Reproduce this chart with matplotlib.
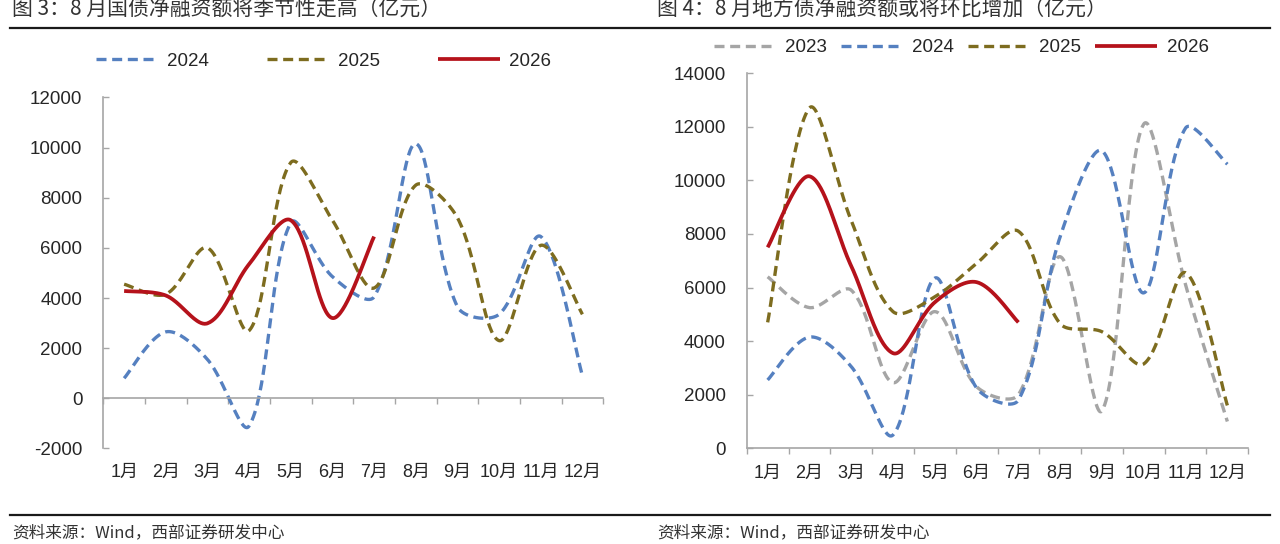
import numpy as np
import matplotlib
matplotlib.use("Agg")
import matplotlib.pyplot as plt
from matplotlib.lines import Line2D

plt.rcParams['font.family'] = ['Liberation Sans', 'Noto Sans CJK SC', 'DejaVu Sans']
plt.rcParams['axes.unicode_minus'] = False

# 数据（亿元）
months = ['1月', '2月', '3月', '4月', '5月', '6月', '7月', '8月', '9月', '10月', '11月', '12月']

gz_2024 = [800, 2650, 1550, -1100, 7000, 4850, 4050, 10150, 3650, 3350, 6450, 900]
gz_2025 = [4550, 4150, 6000, 2700, 9400, 7100, 4400, 8500, 7200, 2300, 6100, 3350]
gz_2026 = [4280, 4100, 2990, 5350, 7100, 3200, 6450]

df_2023 = [6400, 5250, 5900, 2450, 5100, 2300, 2000, 7150, 1400, 12100, 6100, 1000]
df_2024 = [2550, 4150, 3050, 500, 6350, 2250, 1800, 7900, 11100, 5800, 11950, 10600]
df_2025 = [4700, 12700, 8500, 5100, 5650, 6900, 8100, 4650, 4350, 3150, 6550, 1600]
df_2026 = [7500, 10150, 6800, 3550, 5450, 6200, 4700]

titles = ['图 3：8 月国债净融资额将季节性走高（亿元）', '图 4：8 月地方债净融资额或将环比增加（亿元）']
source = '资料来源：Wind，西部证券研发中心'

c_gray = '#A5A5A5'
c_blue = '#5580C0'
c_olive = '#7D6C1F'
c_red = '#B5121B'


def smooth(ys, ypx, n=40):
    # 类似 Excel 的平滑线：在像素空间按弦长缩放切线的 Bezier
    xp = np.arange(len(ys)) * 41.7
    yp = np.asarray(ys, float) * ypx
    pts = np.column_stack([xp, yp])
    out = []
    t = np.linspace(0, 1, n)[:, None]
    for i in range(len(pts) - 1):
        p0 = pts[i - 1] if i > 0 else pts[i]
        p1, p2 = pts[i], pts[i + 1]
        p3 = pts[i + 2] if i + 2 < len(pts) else pts[i + 1]
        d01 = np.hypot(*(p1 - p0))
        d12 = np.hypot(*(p2 - p1))
        d23 = np.hypot(*(p3 - p2))
        f1 = d12 / (d01 + d12) / 3 if d01 > 0 else 1 / 6
        f2 = d12 / (d12 + d23) / 3 if d23 > 0 else 1 / 6
        c1 = p1 + (p2 - p0) * f1
        c2 = p2 - (p3 - p1) * f2
        seg = (1 - t) ** 3 * p1 + 3 * (1 - t) ** 2 * t * c1 + 3 * (1 - t) * t ** 2 * c2 + t ** 3 * p2
        out.append(seg if i == 0 else seg[1:])
    s = np.vstack(out)
    return s[:, 0] / 41.7, s[:, 1] / ypx


def draw(ax, ys, ypx, color, label, dashed=True):
    x, y = smooth(ys, ypx)
    if dashed:
        ax.plot(x, y, color=color, lw=2.4, dashes=(3.0, 1.7), dash_capstyle='butt', label=label)
    else:
        ax.plot(x, y, color=color, lw=2.7, solid_capstyle='butt', label=label)


def style(ax, ymin, ymax, step, xpad):
    ax.set_xlim(-0.5, 11.5)
    ax.set_ylim(ymin, ymax)
    ax.set_yticks(np.arange(ymin, ymax + 1, step))
    for s in ['top', 'right']:
        ax.spines[s].set_visible(False)
    for s in ['left', 'bottom']:
        ax.spines[s].set_color('#A6A6A6')
        ax.spines[s].set_linewidth(1.2)
    ax.spines['bottom'].set_position(('data', 0))
    ax.set_xticks(range(12))
    ax.set_xticklabels(months)
    ax.set_xticks(np.arange(-0.5, 12, 1), minor=True)
    ax.tick_params(axis='x', which='major', length=0, pad=xpad, labelsize=13, colors='#262626')
    ax.tick_params(axis='x', which='minor', length=4, width=1, direction='out', color='#A6A6A6')
    ax.tick_params(axis='y', which='major', length=4, width=1, direction='in', color='#A6A6A6',
                   pad=15, labelsize=13.5, labelcolor='#262626')


fig = plt.figure(figsize=(12.8, 5.44), dpi=100)

# 左图：国债
ax1 = fig.add_axes([0.0807, 0.1756, 0.3906, 0.6454])
ypx1 = 50.15 / 2000
draw(ax1, gz_2024, ypx1, c_blue, '2024')
draw(ax1, gz_2025, ypx1, c_olive, '2025')
draw(ax1, gz_2026, ypx1, c_red, '2026', dashed=False)
style(ax1, -2000, 12000, 2000, 47)
ax1.legend(loc='center', bbox_to_anchor=(0.2527, 0.887), bbox_transform=fig.transFigure,
           ncol=3, frameon=False, fontsize=13.5, handlelength=3.3, handletextpad=0.5,
           columnspacing=3.1, labelcolor='#262626')

# 右图：地方债
ax2 = fig.add_axes([0.5834, 0.1759, 0.3918, 0.6897])
ypx2 = 53.6 / 2000
draw(ax2, df_2023, ypx2, c_gray, '2023')
draw(ax2, df_2024, ypx2, c_blue, '2024')
draw(ax2, df_2025, ypx2, c_olive, '2025')
draw(ax2, df_2026, ypx2, c_red, '2026', dashed=False)
style(ax2, 0, 14000, 2000, 12)
ax2.legend(loc='center', bbox_to_anchor=(0.751, 0.912), bbox_transform=fig.transFigure,
           ncol=4, frameon=False, fontsize=13.5, handlelength=3.3, handletextpad=0.5,
           columnspacing=0.75, labelcolor='#262626')

# 标题、分隔线和资料来源
for x0, t in zip([12 / 1280, 657 / 1280], titles):
    fig.text(x0, 1 - 10 / 544, t, fontsize=15, color='#333333', va='center', ha='left',
             family=['Noto Sans CJK SC'])
    fig.text(x0, 1 - 533 / 544, source, fontsize=12, color='#333333', va='center', ha='left',
             family=['Noto Sans CJK SC'])

for yy in [1 - 28 / 544, 1 - 515 / 544]:
    fig.add_artist(Line2D([10 / 1280, 1270 / 1280], [yy, yy], transform=fig.transFigure,
                          color='#1A1A1A', lw=1.6))

fig.savefig('out.png', dpi=100)
